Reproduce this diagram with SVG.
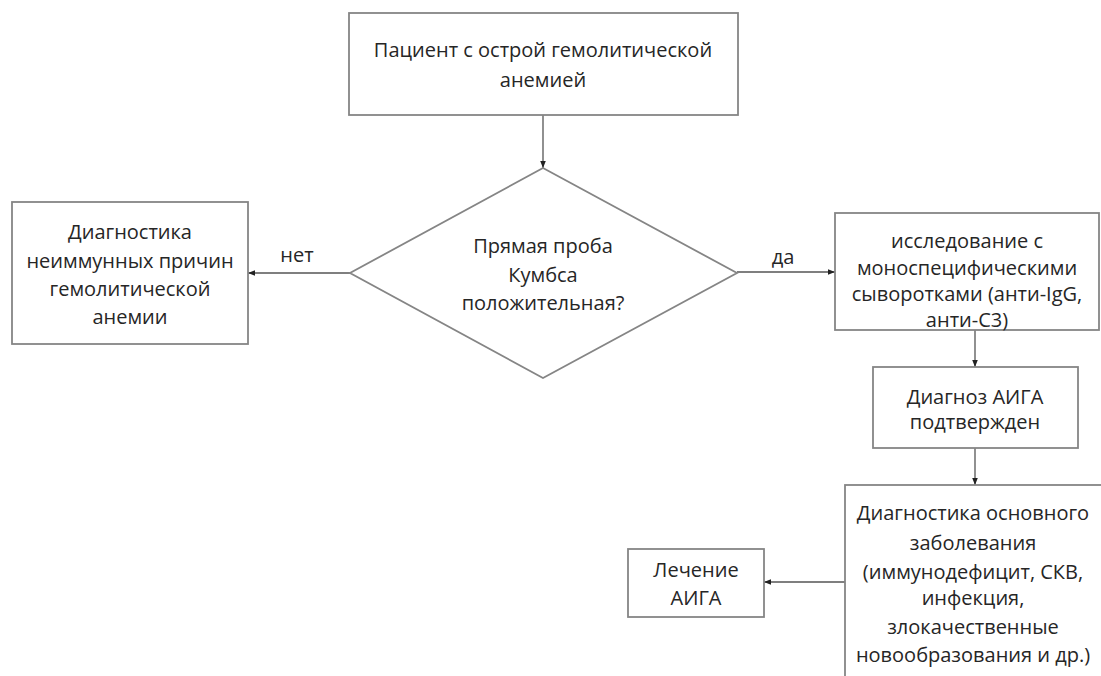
<svg xmlns="http://www.w3.org/2000/svg" width="1101" height="676" viewBox="0 0 1101 676">
<defs>
<marker id="arr" viewBox="0 0 10 10" refX="10" refY="5" markerWidth="7" markerHeight="7" markerUnits="userSpaceOnUse" orient="auto">
<path d="M0,1 L10,5 L0,9 z" fill="#222"/>
</marker>
<style>
.box{fill:#fff;stroke:#858585;stroke-width:1.8}
.t{font-family:"Open Sans","Liberation Sans",sans-serif;font-size:20px;fill:#262626;text-anchor:middle}
.c{fill:none;stroke:#555;stroke-width:1.3;marker-end:url(#arr)}
</style>
</defs>
<rect width="1101" height="676" fill="#fff"/>
<g id="connectors">
<line class="c" x1="543" y1="115" x2="543" y2="168"/>
<line class="c" x1="350" y1="273" x2="248" y2="273"/>
<line class="c" x1="737" y1="272" x2="835" y2="272"/>
<line class="c" x1="975" y1="330" x2="975" y2="367"/>
<line class="c" x1="975" y1="448" x2="975" y2="485"/>
<line class="c" x1="845" y1="582" x2="764" y2="582"/>
<text class="t" x="297" y="262">нет</text>
<text class="t" x="783" y="264">да</text>
</g>
<g id="start">
<rect class="box" x="349" y="13" width="389" height="102"/>
<text class="t" x="543" y="57">Пациент с острой гемолитической</text>
<text class="t" x="543" y="87">анемией</text>
</g>
<g id="decision">
<polygon class="box" points="543,168 737,273 543,378 350,273"/>
<text class="t" x="543" y="253">Прямая проба</text>
<text class="t" x="543" y="282">Кумбса</text>
<text class="t" x="543" y="310">положительная?</text>
</g>
<g id="nonimmune">
<rect class="box" x="12" y="202" width="236" height="142"/>
<text class="t" x="130" y="239">Диагностика</text>
<text class="t" x="130" y="268">неиммунных причин</text>
<text class="t" x="130" y="296">гемолитической</text>
<text class="t" x="130" y="324">анемии</text>
</g>
<g id="monospecific">
<rect class="box" x="835" y="213" width="264" height="117"/>
<text class="t" x="967" y="248">исследование с</text>
<text class="t" x="967" y="275">моноспецифическими</text>
<text class="t" x="967" y="301">сыворотками (анти-IgG,</text>
<text class="t" x="967" y="327">анти-C3)</text>
</g>
<g id="confirmed">
<rect class="box" x="873" y="367" width="205" height="81"/>
<text class="t" x="975" y="404">Диагноз АИГА</text>
<text class="t" x="975" y="429">подтвержден</text>
</g>
<g id="underlying">
<rect class="box" x="845" y="485" width="270" height="210"/>
<text class="t" x="973" y="520">Диагностика основного</text>
<text class="t" x="973" y="550">заболевания</text>
<text class="t" x="973" y="579">(иммунодефицит, СКВ,</text>
<text class="t" x="973" y="605">инфекция,</text>
<text class="t" x="973" y="634">злокачественные</text>
<text class="t" x="973" y="662">новообразования и др.)</text>
</g>
<g id="treatment">
<rect class="box" x="628" y="549" width="136" height="68"/>
<text class="t" x="696" y="577">Лечение</text>
<text class="t" x="696" y="605">АИГА</text>
</g>
</svg>
